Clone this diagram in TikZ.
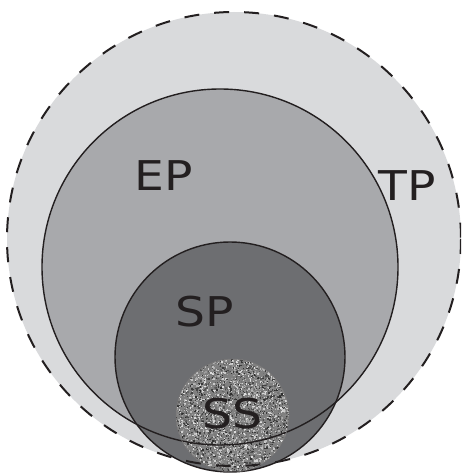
\documentclass[tikz,border=0pt]{standalone}
\usepackage{fontspec}
\setmainfont{DejaVu Sans}
\definecolor{tpcol}{HTML}{D9DADC}
\definecolor{epcol}{HTML}{A8A9AC}
\definecolor{spcol}{HTML}{6D6E71}
\definecolor{inkcol}{HTML}{231F20}
\newcommand{\widetxt}[1]{\scalebox{1.15}[1]{#1}}
\begin{document}
\begin{tikzpicture}[x=1pt,y=-1pt,
  lbl/.style={text=inkcol,font=\fontsize{41}{41}\selectfont,inner sep=0pt},
  ring/.style={draw=inkcol,line width=1.4pt}]
\useasboundingbox (0,0) rectangle (461,476);
\begin{scope}
\clip (0,0) rectangle (461,476);
% fills
\fill[tpcol] (234,239) circle (227);
\fill[epcol] (220,267) circle (178);
\fill[spcol] (230,357) circle (115);
\begin{scope}
\clip (232.5,415.5) circle (56.5);
\fill[black!50] (175,358) rectangle (290,473);
\pgfmathsetseed{12345}
\foreach \i in {1,...,5000}{
  \pgfmathsetmacro\px{175+115*rnd}
  \pgfmathsetmacro\py{358+115*rnd}
  \pgfmathsetmacro\g{int(12+72*rnd)}
  \pgfmathsetmacro\s{0.7+1.2*rnd}
  \fill[black!\g] (\px,\py) rectangle ++(\s,\s);
}
\end{scope}
% outlines
\draw[inkcol,line width=2pt,dash pattern=on 15pt off 15pt] (234,239) circle (227);
\draw[ring] (220,267) circle (178);
\draw[ring] (230,357) circle (115);
\draw[inkcol!60,line width=0.5pt] (232.5,415.5) circle (56.5);
\end{scope}
% labels
\node[lbl] (ep) at (163.5,175.5) {\widetxt{EP}};
\node[lbl] (tp) at (407,186) {\widetxt{TP}};
\node[lbl] (sp) at (205,312) {\widetxt{SP}};
\node[lbl] (ss) at (232.5,414) {\widetxt{SS}};
\end{tikzpicture}
\end{document}
